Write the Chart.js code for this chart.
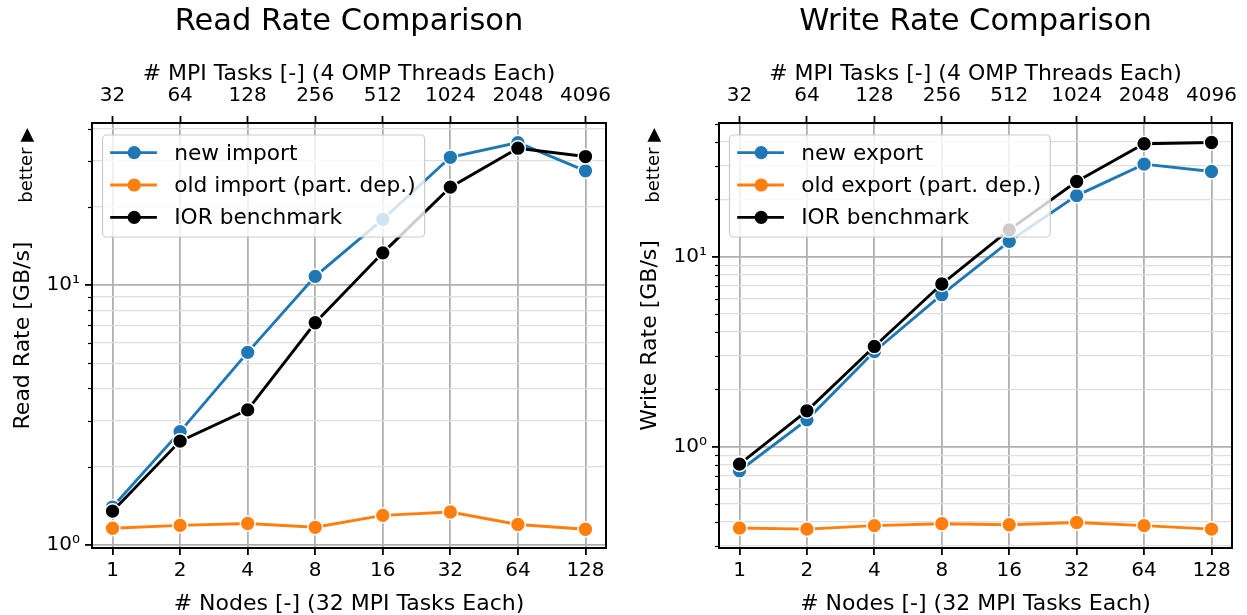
<!DOCTYPE html>
<html><head><meta charset="utf-8">
<script src="https://cdn.jsdelivr.net/npm/chart.js@4.4.0/dist/chart.umd.min.js"></script>
<style>
html,body{margin:0;padding:0;background:#fff;}
#wrap{position:relative;width:1247px;height:615px;overflow:hidden;}
.box{position:absolute;top:0;height:615px;}
canvas{display:block;}
</style></head><body>
<div id="wrap">
<div class="box" style="left:0;width:623px"><canvas id="c1" width="623" height="615"></canvas></div>
<div class="box" style="left:623px;width:624px"><canvas id="c2" width="624" height="615"></canvas></div>
</div>
<script>
// ---- data ----
const nodes = [1, 2, 4, 8, 16, 32, 64, 128];
const mpiTasks = [32, 64, 128, 256, 512, 1024, 2048, 4096];
const readNew = [1.40, 2.73, 5.51, 10.8, 17.9, 31.0, 35.3, 27.5];
const readOld = [1.16, 1.19, 1.21, 1.17, 1.30, 1.34, 1.20, 1.15];
const readIOR = [1.35, 2.51, 3.31, 7.16, 13.3, 23.8, 33.6, 31.2];
const writeNew = [0.745, 1.38, 3.16, 6.29, 12.0, 20.9, 30.6, 28.0];
const writeOld = [0.372, 0.367, 0.383, 0.392, 0.387, 0.398, 0.383, 0.367];
const writeIOR = [0.807, 1.54, 3.36, 7.16, 13.8, 24.8, 39.2, 39.8];
const readLabels = ['new import', 'old import (part. dep.)', 'IOR benchmark'];
const writeLabels = ['new export', 'old export (part. dep.)', 'IOR benchmark'];
const yTickText = {1: '10\u2070', 10: '10\u00B9'};
const titles = ['Read Rate Comparison', 'Write Rate Comparison'];
const yTitles = ['Read Rate [GB/s]', 'Write Rate [GB/s]'];
const xTitle = '# Nodes [-] (32 MPI Tasks Each)';
const x2Title = '# MPI Tasks [-] (4 OMP Threads Each)';
const betterText = 'better \u25B6';
const colors = ['#1f77b4', '#ff7f0e', '#000000'];

// ---- layout constants ----
const FONT = 'DejaVu Sans';
const CH = 615, TOP = 123, BOTTOM = 548;
const TITLE_FS = 30.5, TITLE_PAD = 6.5;
const TITLE_BLOCK = TITLE_FS + TITLE_PAD;
const LAB_FS = 22, TICK_FS = 20, LEG_FS = 21.7;
const XMIN = 0.81, XMAX = 158;

function logTicks(min, max) {
  const out = [];
  for (let e = -2; e <= 3; e++) for (let m = 1; m < 10; m++) {
    const v = +(m * Math.pow(10, e)).toPrecision(6);
    if (v >= min * 0.9999 && v <= max * 1.0001) out.push(v);
  }
  return out;
}
function isMajor(v) { const l = Math.log10(v); return Math.abs(l - Math.round(l)) < 1e-9; }

function makeChart(id, idx, series, labels, yMin, yMax, chartLeft, chartRight, canvasW) {
  const decor = {
    id: 'decor' + idx,
    afterDatasetsDraw(chart) {
      const ctx = chart.ctx, ca = chart.chartArea, ys = chart.scales.y;
      ctx.save();
      // minor y tick marks
      ctx.strokeStyle = '#000'; ctx.lineWidth = 1.2;
      ys.ticks.forEach(t => {
        if (!isMajor(t.value)) {
          const y = Math.round(ys.getPixelForValue(t.value)) + 0.5;
          ctx.beginPath(); ctx.moveTo(ca.left - 4, y); ctx.lineTo(ca.left, y); ctx.stroke();
        }
      });
      // frame
      ctx.lineWidth = 2; ctx.strokeStyle = '#000';
      ctx.strokeRect(ca.left, ca.top, ca.right - ca.left, ca.bottom - ca.top);
      // legend
      ctx.font = LEG_FS + 'px "' + FONT + '"';
      const bx = ca.left + 10.5, by = ca.top + 12;
      const textX = 71.7;
      let maxW = 0;
      chart.data.datasets.forEach(d => { maxW = Math.max(maxW, ctx.measureText(d.label).width); });
      const bw = textX + maxW + 9, bh = 102;
      ctx.beginPath();
      ctx.roundRect(bx, by, bw, bh, 4);
      ctx.fillStyle = 'rgba(255,255,255,0.8)'; ctx.fill();
      ctx.strokeStyle = '#cccccc'; ctx.lineWidth = 1.2; ctx.stroke();
      chart.data.datasets.forEach((d, i) => {
        const ry = by + 17.7 + i * 32.3;
        ctx.strokeStyle = d.borderColor; ctx.lineWidth = 2.8;
        ctx.beginPath(); ctx.moveTo(bx + 7.7, ry); ctx.lineTo(bx + 54.4, ry); ctx.stroke();
        ctx.beginPath(); ctx.arc(bx + 31.7, ry, 6.6, 0, Math.PI * 2);
        ctx.fillStyle = d.backgroundColor; ctx.fill();
        ctx.fillStyle = '#000'; ctx.textAlign = 'left'; ctx.textBaseline = 'alphabetic';
        ctx.fillText(d.label, bx + textX, ry + 6.8);
      });
      ctx.restore();
    },
    afterDraw(chart) {
      const ctx = chart.ctx, ca = chart.chartArea;
      ctx.save();
      ctx.translate(ca.left - 60.5, ca.top + 5);
      ctx.rotate(-Math.PI / 2);
      ctx.font = '18px "' + FONT + '"';
      ctx.fillStyle = '#000'; ctx.textAlign = 'right'; ctx.textBaseline = 'alphabetic';
      ctx.fillText(betterText, 0, 0);
      ctx.restore();
    }
  };
  const orders = [3, 2, 1];
  const datasets = series.map((vals, i) => ({
    label: labels[i],
    data: nodes.map((n, k) => ({x: n, y: vals[k]})),
    borderColor: colors[i], backgroundColor: colors[i],
    pointBackgroundColor: colors[i], pointBorderColor: '#ffffff',
    pointBorderWidth: 1.5, pointRadius: 7.4, borderWidth: 2.9,
    tension: 0, order: orders[i], clip: false
  }));
  const yPad = (chartLeft - 69) - LAB_FS / 2;
  return new Chart(document.getElementById(id), {
    type: 'line',
    data: {datasets},
    options: {
      responsive: false, animation: false, devicePixelRatio: 1, events: [],
      layout: {padding: {left: 0, right: canvasW - chartRight, top: 0, bottom: 0}},
      plugins: {
        legend: {display: false}, tooltip: {enabled: false},
        title: {display: true, text: titles[idx], fullSize: false, color: '#000',
          font: {family: FONT, size: TITLE_FS, weight: 'normal', lineHeight: 1},
          padding: {top: TITLE_PAD, bottom: 0}}
      },
      scales: {
        x: {
          type: 'logarithmic', position: 'bottom', min: XMIN, max: XMAX,
          afterBuildTicks: s => { s.ticks = nodes.map(v => ({value: v})); },
          afterFit: s => { s.height = CH - BOTTOM; },
          ticks: {autoSkip: false, maxRotation: 0, minRotation: 0, padding: 4, color: '#000',
            font: {family: FONT, size: TICK_FS}, callback: v => String(v)},
          grid: {color: '#b0b0b0', lineWidth: 1.8, tickLength: 7, tickColor: '#000', tickWidth: 1.8},
          border: {display: false},
          title: {display: true, text: xTitle, color: '#000',
            font: {family: FONT, size: LAB_FS, lineHeight: 1}, padding: {top: 0, bottom: 0}}
        },
        x2: {
          type: 'logarithmic', position: 'top', axis: 'x', min: XMIN * 32, max: XMAX * 32,
          afterBuildTicks: s => { s.ticks = mpiTasks.map(v => ({value: v})); },
          afterFit: s => { s.height = TOP - TITLE_BLOCK; },
          ticks: {autoSkip: false, maxRotation: 0, minRotation: 0, padding: 8, color: '#000',
            font: {family: FONT, size: TICK_FS}, callback: v => String(v)},
          grid: {drawOnChartArea: false, color: '#000', tickLength: 7, tickColor: '#000', tickWidth: 1.8},
          border: {display: false},
          title: {display: true, text: x2Title, color: '#000',
            font: {family: FONT, size: LAB_FS, lineHeight: 1}, padding: {top: 74 - TITLE_BLOCK - LAB_FS / 2, bottom: 0}}
        },
        y: {
          type: 'logarithmic', position: 'left', min: yMin, max: yMax,
          afterBuildTicks: s => { s.ticks = logTicks(yMin, yMax).map(v => ({value: v, major: isMajor(v)})); },
          afterFit: s => { s.width = chartLeft; },
          ticks: {autoSkip: false, padding: 5, color: '#000',
            font: {family: FONT, size: TICK_FS}, callback: v => yTickText[v] || ''},
          grid: {
            color: c => isMajor(c.tick.value) ? '#b0b0b0' : '#dedede',
            lineWidth: c => isMajor(c.tick.value) ? 1.8 : 1.2,
            tickLength: 7, tickWidth: 1.8,
            tickColor: c => isMajor(c.tick.value) ? '#000' : 'rgba(0,0,0,0)'
          },
          border: {display: false},
          title: {display: true, text: yTitles[idx], color: '#000',
            font: {family: FONT, size: LAB_FS, lineHeight: 1}, padding: {top: yPad, bottom: 0}}
        }
      }
    },
    plugins: [decor]
  });
}

makeChart('c1', 0, [readNew, readOld, readIOR], readLabels, 0.974, 42.0, 92, 606, 623);
makeChart('c2', 1, [writeNew, writeOld, writeIOR], writeLabels, 0.292, 50.4, 96, 609, 624);
</script>
</body></html>
